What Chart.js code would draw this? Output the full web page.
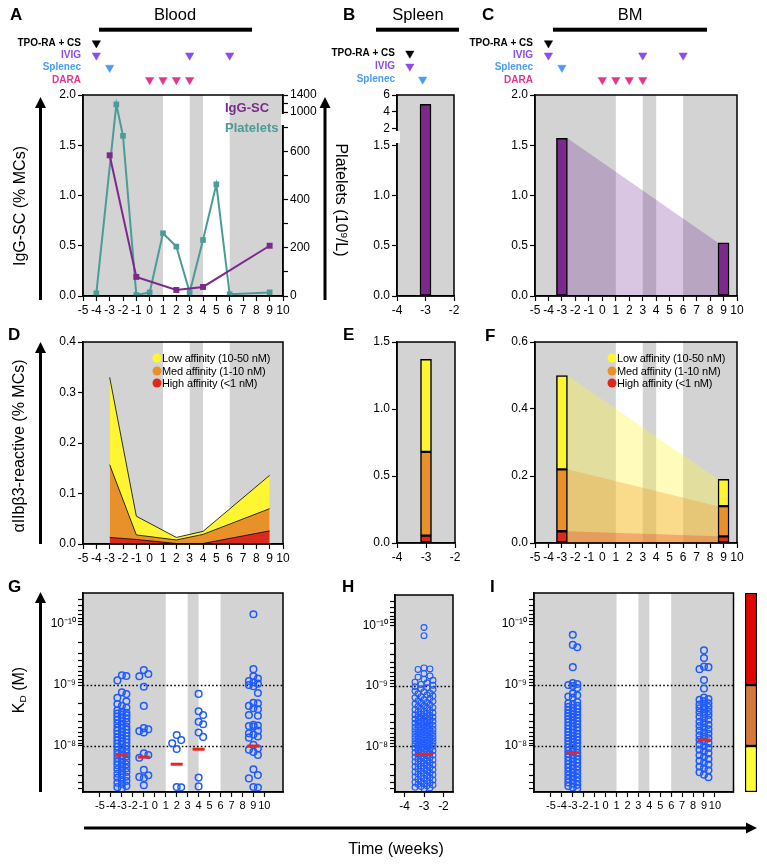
<!DOCTYPE html>
<html>
<head>
<meta charset="utf-8">
<script src="https://cdn.jsdelivr.net/npm/chart.js@4.4.1/dist/chart.umd.min.js"></script>
<style>
  html, body { margin: 0; background: #fff; }
  #fig { position: relative; width: 767px; height: 867px; overflow: hidden; font-family: Arial, "Liberation Sans", sans-serif; }
  #fig canvas { position: absolute; }
  #fig svg { position: absolute; left: 0; top: 0; z-index: 2; }
  .t { position: absolute; white-space: nowrap; line-height: 1; z-index: 3; color: #000; }
  .t sup { font-size: 0.62em; vertical-align: 0.55em; line-height: 0; }
  .t sub { font-size: 0.62em; vertical-align: -0.25em; line-height: 0; }
  .dot { position: absolute; width: 9px; height: 9px; border-radius: 50%; z-index: 3; transform: translate(-50%, -50%); }
</style>
</head>
<body>
<div id="fig"></div>
<script>
// ---------- data ----------
const weekTicks = [-5, -4, -3, -2, -1, 0, 1, 2, 3, 4, 5, 6, 7, 8, 9, 10];
const spleenTicks = [-4, -3, -2];
const whiteWindows = [[1, 3], [4, 6]];

const tpoWeeks = [-4];
const ivigWeeks = [-4, 3, 6];
const splenecWeeks = [-3];
const daraWeeks = [0, 1, 2, 3];
const tpoSpleen = [-3.55];
const ivigSpleen = [-3.55];
const splenecSpleen = [-3.1];

const sampleWeeks = [-3, -1, 2, 4, 9];
const iggBlood = [1.40, 0.19, 0.06, 0.09, 0.50];
const plateletWeeks = [-4, -2.5, -2, -1, 0, 1, 2, 3, 4, 5, 6, 9];
const platelets = [11, 1180, 664, 4, 15, 260, 205, 15, 232, 463, 7, 15];
const spleenWeeks = [-3];
const iggSpleen = [4.9];
const bmWeeks = [-3, 9];
const iggBM = [1.57, 0.53];

const highBlood = [0.013, 0.009, 0.001, 0.001, 0.026];
const medBlood = [0.144, 0.009, 0.007, 0.018, 0.044];
const lowBlood = [0.173, 0.037, 0.005, 0.006, 0.066];
const highSpleen = [0.055];
const medSpleen = [0.625];
const lowSpleen = [0.69];
const highBM = [0.035, 0.020];
const medBM = [0.185, 0.090];
const lowBM = [0.280, 0.080];

// KD values in nM
const kdBloodM3 = [0.69, 0.71, 0.84, 1.32, 1.41, 1.62, 1.85, 2.05, 2.2, 2.35, 2.6, 2.75, 2.85, 2.95, 3.05, 3.15, 3.3, 3.4, 3.5, 3.7,
  3.9, 4.05, 4.3, 4.5, 4.8, 5.0, 5.15, 5.4, 5.6, 5.9, 6.1, 6.3, 6.6, 6.9, 7.2, 7.4, 7.8, 8.1, 8.3, 8.8, 9.1, 9.4, 9.9, 10.2,
  10.8, 11.4, 11.7, 12.5, 13.1, 13.5, 14.3, 14.8, 15.7, 16.2, 17.3, 18.1, 18.8, 19.9, 20.6, 21.9, 23.1, 24.0, 25.6, 26.7,
  28.5, 29.8, 31.9, 33.2, 35.7, 37.4, 39.9, 42.0, 45.1, 47.3, 49.6];
const kdBloodM1 = [0.57, 0.66, 0.72, 1.07, 2.2, 5.1, 5.3, 5.7, 6.0, 13.2, 14.1, 15.6, 24.5, 30.2, 32.1, 33.4, 44.0];
const kdBlood2 = [6.6, 8.0, 9.0, 11.2, 47, 47.5];
const kdBlood4 = [1.4, 2.7, 3.1, 4.0, 4.4, 6.0, 7.1, 33, 46];
const kdBlood9 = [0.069, 0.55, 0.72, 0.78, 0.86, 0.9, 0.95, 1.0, 1.05, 1.35, 1.95, 2.0, 2.2, 2.4, 2.5, 3.1, 3.2, 4.5, 4.6, 4.7,
  4.8, 5.6, 6.2, 6.5, 7.0, 7.3, 9.6, 11.0, 11.5, 12.5, 14.0, 24, 30, 34, 47, 48];
const kdBloodMean = [14.0, 15.2, 19.9, 11.3, 10.0];

const kdSpleen = [0.107, 0.146, 0.50, 0.52, 0.53, 0.62, 0.68, 0.71, 0.77, 0.8, 0.86, 0.88, 0.94, 0.97, 1.02, 1.06, 1.1, 1.14,
  1.21, 1.24, 1.31, 1.34, 1.4, 1.46, 1.5, 1.56, 1.61, 1.67, 1.74, 1.79, 1.86, 1.9, 1.98, 2.04, 2.12, 2.18, 2.27, 2.31, 2.4,
  2.46, 2.52, 2.61, 2.68, 2.77, 2.82, 2.9, 2.98, 3.04, 3.12, 3.2, 3.28, 3.33, 3.42, 3.51, 3.6, 3.68, 3.77, 3.83, 3.92, 4.01,
  4.12, 4.2, 4.31, 4.4, 4.47, 4.58, 4.7, 4.79, 4.88, 4.97, 5.06, 5.18, 5.27, 5.35, 5.46, 5.58, 5.66, 5.79, 5.9, 6.02, 6.11,
  6.24, 6.33, 6.47, 6.6, 6.71, 6.85, 6.96, 7.1, 7.22, 7.37, 7.5, 7.63, 7.8, 7.92, 8.07, 8.24, 8.38, 8.55, 8.7, 8.86, 9.04,
  9.2, 9.38, 9.55, 9.76, 9.93, 10.1, 10.4, 10.6, 10.9, 11.1, 11.4, 11.7, 11.9, 12.3, 12.6, 12.9, 13.2, 13.6, 13.9, 14.3,
  14.6, 15.0, 15.4, 15.8, 16.2, 16.7, 17.1, 17.6, 18.0, 18.5, 19.0, 19.5, 20.1, 20.6, 21.2, 21.7, 22.4, 23.0, 23.6, 24.3,
  25.0, 25.6, 26.4, 27.1, 27.9, 28.6, 29.5, 30.3, 31.1, 32.0, 33.0, 33.9, 34.8, 35.9, 36.9, 37.9, 39.0, 40.1, 41.3, 42.4,
  43.6, 44.9, 46.1, 47.5, 48.8, 50.2];
const kdSpleenMean = [13.5];

const kdBmM3 = [0.15, 0.22, 0.24, 0.51, 0.93, 0.96, 1.0, 1.04, 1.12, 1.38, 1.47, 1.55, 1.62, 1.9, 2.0, 2.08, 2.2, 2.27, 2.38,
  2.45, 2.6, 2.66, 2.8, 2.9, 3.0, 3.1, 3.22, 3.35, 3.46, 3.6, 3.78, 3.9, 4.1, 4.2, 4.4, 4.6, 4.78, 5.0, 5.2, 5.4, 5.55, 5.9,
  6.1, 6.3, 6.6, 6.85, 7.1, 7.4, 7.7, 8.0, 8.3, 8.6, 9.0, 9.3, 9.7, 10.1, 10.5, 10.9, 11.4, 11.9, 12.4, 12.9, 13.4, 14.0,
  14.6, 15.2, 15.9, 16.6, 17.3, 18.1, 18.9, 19.8, 20.7, 21.6, 22.6, 23.7, 24.8, 26.0, 27.2, 28.5, 29.9, 31.3, 32.8, 34.4,
  36.0, 37.7, 39.5, 41.4, 43.4, 45.5, 47.7, 49.8];
const kdBm9 = [0.27, 0.36, 0.50, 0.51, 0.55, 0.83, 1.14, 1.6, 1.7, 1.75, 1.85, 2.0, 2.1, 2.2, 2.3, 2.4, 2.5, 2.7, 2.8, 3.0,
  3.1, 3.3, 3.5, 3.7, 4.0, 4.2, 4.5, 4.7, 5.0, 5.3, 5.6, 6.0, 6.3, 6.7, 7.1, 7.5, 7.9, 8.4, 8.9, 9.5, 10.1, 10.8, 11.5,
  12.3, 13.2, 14.2, 15.2, 16.3, 17.5, 18.8, 20.2, 21.7, 23.3, 25.0, 27.0, 29.5, 32.5];
const kdBmMean = [12.9, 8.0];

const kdAxisNM = [0.031, 56.8];
const affinityCutsNM = [1, 10];

// ---------- styles ----------
const PURPLE = '#7b2a8c', TEAL = '#4b9b96', GRAY = '#d3d3d3', BLUE = '#1f5cff', MEAN = '#e8261c';
const YEL = '#fff533', ORA = '#e8912a', RED = '#d92a1c';
const C_TPO = '#000000', C_IVIG = '#8a4cf0', C_SPL = '#4a9bf5', C_DARA = '#e0378c';

Chart.defaults.font.family = 'Arial, "Liberation Sans", sans-serif';
Chart.defaults.font.size = 12;
Chart.defaults.color = '#000';
Chart.defaults.animation = false;
Chart.defaults.events = [];
Chart.defaults.plugins.legend.display = false;
Chart.defaults.plugins.tooltip.enabled = false;

const fig = document.getElementById('fig');

// linear scale with an axis break
class BrokenScale extends Chart.LinearScale {
  brk() {
    const b = this.options.brk;
    return { lo: b.lo, loF: b.loF, hi: b.hi, hiF: b.hiF };
  }
  getPixelForValue(v) {
    const k = this.brk();
    let f;
    if (v <= k.lo) f = (v - this.min) / (k.lo - this.min) * k.loF;
    else if (v >= k.hi) f = k.hiF + (v - k.hi) / (this.max - k.hi) * (1 - k.hiF);
    else f = k.loF + (v - k.lo) / (k.hi - k.lo) * (k.hiF - k.loF);
    return this.bottom - f * (this.bottom - this.top);
  }
  getValueForPixel(p) {
    const k = this.brk();
    const f = (this.bottom - p) / (this.bottom - this.top);
    if (f <= k.loF) return this.min + f / k.loF * (k.lo - this.min);
    if (f >= k.hiF) return k.hi + (f - k.hiF) / (1 - k.hiF) * (this.max - k.hi);
    return k.lo + (f - k.loF) / (k.hiF - k.loF) * (k.hi - k.lo);
  }
}
BrokenScale.id = 'broken';
BrokenScale.defaults = Chart.LinearScale.defaults;
Chart.register(BrokenScale);

// background bands, frame, dotted reference lines, axis gaps
const decoMap = new WeakMap();
Chart.register({
  id: 'deco',
  beforeDraw(chart) {
    const o = decoMap.get(chart.canvas);
    if (!o) return;
    const { ctx, chartArea: a } = chart;
    ctx.save();
    ctx.fillStyle = GRAY;
    ctx.fillRect(a.left, a.top, a.width, a.height);
    if (o.bands) {
      ctx.fillStyle = '#fff';
      whiteWindows.forEach(([s, e]) => {
        const x0 = chart.scales.x.getPixelForValue(s), x1 = chart.scales.x.getPixelForValue(e);
        ctx.fillRect(x0, a.top, x1 - x0, a.height);
      });
    }
    ctx.restore();
  },
  beforeDatasetsDraw(chart) {
    const o = decoMap.get(chart.canvas);
    if (!o || !o.dotted) return;
    const { ctx, chartArea: a } = chart;
    ctx.save();
    ctx.strokeStyle = '#000';
    ctx.lineWidth = 1.3;
    ctx.setLineDash([1.6, 2.2]);
    o.dotted.forEach(v => {
      const py = Math.round(chart.scales.y.getPixelForValue(v)) + 0.5;
      ctx.beginPath(); ctx.moveTo(a.left, py); ctx.lineTo(a.right, py); ctx.stroke();
    });
    ctx.restore();
  },
  afterDraw(chart) {
    const o = decoMap.get(chart.canvas);
    if (!o) return;
    const { ctx, chartArea: a } = chart;
    ctx.save();
    ctx.strokeStyle = '#000';
    ctx.lineWidth = 1.5;
    ctx.strokeRect(a.left, a.top, a.width, a.height);
    if (o.gap) {
      const s = chart.scales[o.gap.axis];
      const y0 = s.getPixelForValue(o.gap.hi) + 2, y1 = s.getPixelForValue(o.gap.lo) - 2;
      const x = o.gap.side === 'left' ? a.left : a.right;
      ctx.clearRect(x - 2.5, y0, 5, y1 - y0);
    }
    ctx.restore();
  }
});

// ---------- helpers ----------
function canvasAt(x, y, w, h) {
  const c = document.createElement('canvas');
  c.width = w; c.height = h;
  c.style.left = x + 'px'; c.style.top = y + 'px';
  c.style.width = w + 'px'; c.style.height = h + 'px';
  fig.appendChild(c);
  return c;
}

function axis(o) {
  const a = {
    type: o.type || 'linear',
    offset: false,
    grid: { display: true, drawOnChartArea: false, drawTicks: true, tickLength: 5, tickWidth: 1.2, tickColor: '#000', offset: false },
    border: { display: true, color: '#000', width: 1.5 },
    ticks: { autoSkip: false, maxRotation: 0, minRotation: 0, padding: 2, color: '#000', font: { size: o.fs || 12 }, callback: o.fmt || (v => String(v)) },
    afterBuildTicks: s => { s.ticks = o.ticks.map(v => ({ value: v })); }
  };
  ['min', 'max', 'reverse', 'position', 'brk'].forEach(k => { if (o[k] !== undefined) a[k] = o[k]; });
  return a;
}

function panel(box, type, datasets, scales, deco) {
  const lw = box.l - box.x, rw = box.rw || 14, tp = 10, bh = 30;
  const c = canvasAt(box.x, box.t - tp, lw + box.r - box.l + rw, tp + box.b - box.t + bh);
  scales.x.afterFit = s => { s.height = bh; };
  scales.y.afterFit = s => { s.width = lw; };
  if (scales.y1) scales.y1.afterFit = s => { s.width = rw; };
  decoMap.set(c, deco);
  return new Chart(c, {
    type,
    data: { datasets },
    options: {
      responsive: false, devicePixelRatio: 1, animation: false,
      layout: { padding: { top: tp, right: scales.y1 ? 0 : rw, left: 0, bottom: 0 } },
      scales
    }
  });
}

function timeline(x0, plotL, plotR, top, rowH, xmin, xmax, rows) {
  const pad = 10, lw = plotL - x0;
  const c = canvasAt(x0, top - pad, lw + plotR - plotL + 10, pad * 2 + rowH * rows.length);
  new Chart(c, {
    type: 'scatter',
    data: {
      datasets: rows.map(r => ({
        data: r.weeks.map(w => ({ x: w, y: r.label })),
        pointStyle: 'triangle', pointRotation: 180, pointRadius: 4.8,
        pointBackgroundColor: r.color, pointBorderColor: r.color, pointBorderWidth: 0.5
      }))
    },
    options: {
      responsive: false, devicePixelRatio: 1, animation: false,
      layout: { padding: { top: pad, bottom: pad, left: 0, right: 10 } },
      scales: {
        x: { type: 'linear', min: xmin, max: xmax, display: false },
        y: {
          type: 'category', labels: rows.map(r => r.label), offset: true,
          grid: { display: false, drawTicks: false }, border: { display: false },
          ticks: { autoSkip: false, padding: 2, color: ctx => rows[ctx.index].color, font: { size: 10, weight: 'bold' } },
          afterFit: s => { s.width = lw; }
        }
      }
    }
  });
}

const pts = (xs, ys) => xs.map((x, i) => ({ x, y: ys[i] }));
const cum = (a, b) => a.map((v, i) => v + b[i]);
const fixed1 = v => v.toFixed(1);

const SUP = { '-': '\u207B', '0': '\u2070', '1': '\u00B9', '2': '\u00B2', '3': '\u00B3', '4': '\u2074', '5': '\u2075', '6': '\u2076', '7': '\u2077', '8': '\u2078', '9': '\u2079' };
function decade(v) {
  const l = Math.log10(v), e = Math.round(l);
  return Math.abs(l - e) < 1e-6 ? '10' + String(e).split('').map(ch => SUP[ch]).join('') : '';
}
const KMIN = kdAxisNM[0] * 1e-9, KMAX = kdAxisNM[1] * 1e-9;
const logTicks = [];
for (let e = -11; e <= -8; e++) for (let m = 1; m <= 9; m++) {
  const v = m * Math.pow(10, e);
  if (v >= KMIN && v <= KMAX) logTicks.push(v);
}

// deterministic swarm layout of points around a week
function swarm(week, valsNM, pxX, diam, step, maxPx) {
  const pxDec = 61, placed = [], offs = [0];
  for (let k = 1; k * step <= maxPx + 0.01; k++) offs.push(k * step, -k * step);
  return valsNM.slice().sort((a, b) => a - b).map(v => {
    const py = Math.log10(v) * pxDec;
    let best = 0, bestD = -1;
    for (const dx of offs) {
      let md = Infinity;
      for (const q of placed) {
        const dy = q.py - py;
        if (Math.abs(dy) < diam) md = Math.min(md, Math.hypot(q.dx - dx, dy));
      }
      if (md >= diam) { best = dx; break; }
      if (md > bestD) { bestD = md; best = dx; }
    }
    placed.push({ dx: best, py });
    return { x: week + best / pxX, y: v * 1e-9 };
  });
}

function kdSets(groups, meanWeeks, means, pxX, diam, step, maxPx, r, lineR) {
  let all = [];
  groups.forEach(([w, vals]) => { all = all.concat(swarm(w, vals, pxX, diam, step, maxPx)); });
  return [
    { data: meanWeeks.map((w, i) => ({ x: w, y: means[i] * 1e-9 })), pointStyle: 'line', pointRadius: lineR,
      pointBorderColor: MEAN, pointBorderWidth: 3, borderColor: MEAN, order: 0 },
    { data: all, pointStyle: 'circle', pointRadius: r, pointBackgroundColor: 'rgba(0,0,0,0)',
      pointBorderColor: BLUE, pointBorderWidth: r > 3 ? 1.5 : 1.1, order: 1 }
  ];
}

function logAxis() {
  return axis({ type: 'logarithmic', min: KMIN, max: KMAX, reverse: true, ticks: logTicks, fmt: decade, fs: 12 });
}

// ---------- timelines ----------
const bigRows = [
  { label: 'TPO-RA + CS', color: C_TPO, weeks: tpoWeeks },
  { label: 'IVIG', color: C_IVIG, weeks: ivigWeeks },
  { label: 'Splenec', color: C_SPL, weeks: splenecWeeks },
  { label: 'DARA', color: C_DARA, weeks: daraWeeks }
];
timeline(0, 83, 283, 37, 12.3, -5, 10, bigRows);
timeline(440, 535, 737, 37, 12.3, -5, 10, bigRows);
timeline(300, 397, 454, 46.5, 13.3, -4, -2, [
  { label: 'TPO-RA + CS', color: C_TPO, weeks: tpoSpleen },
  { label: 'IVIG', color: C_IVIG, weeks: ivigSpleen },
  { label: 'Splenec', color: C_SPL, weeks: splenecSpleen }
]);

// ---------- A ----------
panel({ x: 0, l: 83, r: 283, t: 95, b: 296, rw: 40 }, 'scatter', [
  { data: pts(sampleWeeks, iggBlood), yAxisID: 'y', showLine: true, borderColor: PURPLE, backgroundColor: PURPLE,
    borderWidth: 2, pointStyle: 'rect', pointRadius: 4.2, pointBorderWidth: 0 },
  { data: pts(plateletWeeks, platelets), yAxisID: 'y1', showLine: true, borderColor: TEAL, backgroundColor: TEAL,
    borderWidth: 2, pointStyle: 'rect', pointRadius: 4, pointBorderWidth: 0 }
], {
  x: axis({ min: -5, max: 10, ticks: weekTicks }),
  y: axis({ min: 0, max: 2, ticks: [0, 0.5, 1, 1.5, 2], fmt: fixed1 }),
  y1: axis({ type: 'broken', position: 'right', min: 0, max: 1400, brk: { lo: 700, loF: 0.84, hi: 1000, hiF: 0.915 },
    ticks: [0, 100, 200, 300, 400, 500, 600, 700, 1000, 1200, 1400],
    fmt: v => [0, 200, 400, 600, 1000, 1400].includes(v) ? String(v) : '' })
}, { bands: true, gap: { axis: 'y1', lo: 700, hi: 1000, side: 'right' } });

// ---------- B ----------
panel({ x: 347, l: 397, r: 454, t: 95, b: 296 }, 'bar', [
  { data: pts(spleenWeeks, iggSpleen), backgroundColor: PURPLE, borderColor: '#000', borderWidth: 1.5,
    borderSkipped: false, barThickness: 11 }
], {
  x: axis({ min: -4, max: -2, ticks: spleenTicks }),
  y: axis({ type: 'broken', min: 0, max: 6, brk: { lo: 1.5, loF: 0.75, hi: 2, hiF: 0.832 },
    ticks: [0, 0.5, 1, 1.5, 2, 4, 6], fmt: v => v < 2 ? v.toFixed(1) : String(v) })
}, { bands: false, gap: { axis: 'y', lo: 1.5, hi: 2, side: 'left' } });

// ---------- C ----------
const hwBM = 5.5 / ((737 - 535) / 15);
panel({ x: 485, l: 535, r: 737, t: 95, b: 296 }, 'bar', [
  { data: pts(bmWeeks, iggBM), backgroundColor: PURPLE, borderColor: '#000', borderWidth: 1.5,
    borderSkipped: false, barThickness: 11, order: 0 },
  { type: 'line', data: [{ x: bmWeeks[0] + hwBM, y: iggBM[0] }, { x: bmWeeks[1] - hwBM, y: iggBM[1] }],
    fill: 'origin', backgroundColor: 'rgba(103,27,143,0.25)', borderWidth: 0, pointRadius: 0, order: 1 }
], {
  x: axis({ min: -5, max: 10, ticks: weekTicks }),
  y: axis({ min: 0, max: 2, ticks: [0, 0.5, 1, 1.5, 2], fmt: fixed1 })
}, { bands: true });

// ---------- D ----------
const b1 = highBlood, b2 = cum(b1, medBlood), b3 = cum(b2, lowBlood);
const areaSet = (ys, color) => ({ data: pts(sampleWeeks, ys), showLine: true, fill: 'origin', backgroundColor: color,
  borderColor: '#000', borderWidth: 0.8, pointRadius: 0 });
panel({ x: 0, l: 83, r: 283, t: 342, b: 544 }, 'scatter', [
  areaSet(b1, RED), areaSet(b2, ORA), areaSet(b3, YEL)
], {
  x: axis({ min: -5, max: 10, ticks: weekTicks }),
  y: axis({ min: 0, max: 0.4, ticks: [0, 0.1, 0.2, 0.3, 0.4], fmt: fixed1 })
}, { bands: true });

// ---------- E ----------
const s1 = highSpleen, s2 = cum(s1, medSpleen), s3 = cum(s2, lowSpleen);
const floatSet = (xs, lo, hi, color) => ({ data: xs.map((x, i) => ({ x, y: [lo ? lo[i] : 0, hi[i]] })),
  backgroundColor: color, borderColor: '#000', borderWidth: 1.5, borderSkipped: false, barThickness: 11, grouped: false, order: 0 });
panel({ x: 347, l: 397, r: 455, t: 342, b: 543 }, 'bar', [
  floatSet(spleenWeeks, null, s1, RED), floatSet(spleenWeeks, s1, s2, ORA), floatSet(spleenWeeks, s2, s3, YEL)
], {
  x: axis({ min: -4, max: -2, ticks: spleenTicks }),
  y: axis({ min: 0, max: 1.5, ticks: [0, 0.5, 1, 1.5], fmt: fixed1 })
}, { bands: false });

// ---------- F ----------
const m1 = highBM, m2 = cum(m1, medBM), m3 = cum(m2, lowBM);
const linkSet = (ys, color, ord) => ({ type: 'line', data: [{ x: bmWeeks[0] + hwBM, y: ys[0] }, { x: bmWeeks[1] - hwBM, y: ys[1] }],
  fill: 'origin', backgroundColor: color, borderWidth: 0, pointRadius: 0, order: ord });
panel({ x: 485, l: 535, r: 737, t: 342, b: 543 }, 'bar', [
  floatSet(bmWeeks, null, m1, RED), floatSet(bmWeeks, m1, m2, ORA), floatSet(bmWeeks, m2, m3, YEL),
  linkSet(m3, 'rgba(255,245,60,0.35)', 3), linkSet(m2, 'rgba(240,150,40,0.32)', 2), linkSet(m1, 'rgba(225,60,30,0.3)', 1)
], {
  x: axis({ min: -5, max: 10, ticks: weekTicks }),
  y: axis({ min: 0, max: 0.6, ticks: [0, 0.2, 0.4, 0.6], fmt: fixed1 })
}, { bands: true });

// ---------- G ----------
const gxMin = -6.55, gxMax = 11.7;
panel({ x: 0, l: 83, r: 283, t: 593, b: 792 }, 'scatter',
  kdSets([[-3, kdBloodM3], [-1, kdBloodM1], [2, kdBlood2], [4, kdBlood4], [9, kdBlood9]],
    sampleWeeks, kdBloodMean, 200 / (gxMax - gxMin), 7, 4.5, 5, 3.3, 6), {
  x: axis({ min: gxMin, max: gxMax, ticks: weekTicks, fs: 11 }),
  y: logAxis()
}, { bands: true, dotted: [1e-9, 1e-8] });

// ---------- H ----------
panel({ x: 346, l: 395, r: 453, t: 593, b: 792 }, 'scatter',
  kdSets([[-3, kdSpleen]], spleenWeeks, kdSpleenMean, 58 / 2.98, 6, 3, 9, 2.9, 9), {
  x: axis({ min: -4.49, max: -1.51, ticks: spleenTicks }),
  y: logAxis()
}, { bands: false, dotted: [1e-9, 1e-8] });

// ---------- I ----------
panel({ x: 484, l: 534, r: 735, t: 593, b: 792, rw: 8 }, 'scatter',
  kdSets([[-3, kdBmM3], [9, kdBm9]], bmWeeks, kdBmMean, 201 / (gxMax - gxMin), 7, 4.5, 6, 3.3, 6.5), {
  x: axis({ min: gxMin, max: gxMax, ticks: weekTicks, fs: 11 }),
  y: logAxis()
}, { bands: true, dotted: [1e-9, 1e-8] });

// affinity colour key on the KD scale
{
  const c = canvasAt(743, 591, 16, 203);
  const lims = [kdAxisNM[0], affinityCutsNM[0], affinityCutsNM[1], kdAxisNM[1]].map(v => v * 1e-9);
  const cols = ['#e10600', '#d4793a', '#ffff33'];
  new Chart(c, {
    type: 'bar',
    data: { labels: ['k'], datasets: cols.map((col, i) => ({ data: [[lims[i], lims[i + 1]]], backgroundColor: col,
      borderColor: '#000', borderWidth: 1.5, borderSkipped: false, grouped: false, barPercentage: 1, categoryPercentage: 1 })) },
    options: {
      responsive: false, devicePixelRatio: 1, animation: false,
      layout: { padding: 2 },
      scales: {
        x: { type: 'category', display: false },
        y: { type: 'logarithmic', display: false, min: KMIN, max: KMAX, reverse: true }
      }
    }
  });
}

// ---------- text & decorations ----------
function txt(s, x, y, o = {}) {
  const d = document.createElement('div');
  d.className = 't';
  d.innerHTML = s;
  d.style.left = x + 'px'; d.style.top = y + 'px';
  d.style.fontSize = (o.size || 16) + 'px';
  if (o.bold) d.style.fontWeight = 'bold';
  if (o.color) d.style.color = o.color;
  if (o.ls) d.style.letterSpacing = o.ls + 'px';
  const ax = o.anchor === 'l' ? '0' : o.anchor === 'r' ? '-100%' : '-50%';
  d.style.transform = 'translate(' + ax + ',-50%)' + (o.rot ? ' rotate(' + o.rot + 'deg)' : '');
  fig.appendChild(d);
}
function dot(x, y, color) {
  const d = document.createElement('div');
  d.className = 'dot';
  d.style.left = x + 'px'; d.style.top = y + 'px'; d.style.background = color;
  fig.appendChild(d);
}

[['A', 10, 14], ['B', 343, 14], ['C', 482, 14], ['D', 8, 334], ['E', 343, 334], ['F', 485, 335],
 ['G', 8, 586], ['H', 342, 586], ['I', 490, 586]].forEach(([s, x, y]) => txt(s, x, y, { size: 17, bold: true, anchor: 'l' }));

txt('Blood', 175, 14, { size: 16.5 });
txt('Spleen', 418, 14, { size: 16.5 });
txt('BM', 630, 14, { size: 16.5 });

txt('IgG-SC (% MCs)', 20, 206, { rot: -90 });
txt('Platelets (10<sup>9</sup>/L)', 341, 200, { rot: 90 });
txt('\u03B1IIb\u03B23-reactive (% MCs)', 19, 446, { rot: -90 });
txt('K<sub>D</sub> (M)', 19, 690, { rot: -90 });
txt('Time (weeks)', 396, 849);

txt('IgG-SC', 225, 107, { size: 13, bold: true, color: PURPLE, anchor: 'l' });
txt('Platelets', 225, 127, { size: 13, bold: true, color: TEAL, anchor: 'l' });

const legendRows = [['Low affinity (10-50 nM)', YEL, 358], ['Med affinity (1-10 nM)', ORA, 371], ['High affinity (&lt;1 nM)', RED, 383]];
[157, 612].forEach(cx => legendRows.forEach(([s, col, y]) => {
  dot(cx, y, col);
  txt(s, cx + 5, y, { size: 11, anchor: 'l', ls: -0.15 });
}));

const NS = 'http://www.w3.org/2000/svg';
const svg = document.createElementNS(NS, 'svg');
svg.setAttribute('width', 767); svg.setAttribute('height', 867);
fig.appendChild(svg);
function el(name, attrs) {
  const e = document.createElementNS(NS, name);
  Object.entries(attrs).forEach(([k, v]) => e.setAttribute(k, v));
  svg.appendChild(e);
}
function arrowUp(x, yb, yt) {
  el('line', { x1: x, y1: yb, x2: x, y2: yt + 9, stroke: '#000', 'stroke-width': 3 });
  el('polygon', { points: `${x - 5.5},${yt + 11} ${x + 5.5},${yt + 11} ${x},${yt}`, fill: '#000' });
}
arrowUp(40.5, 300, 97);
arrowUp(325, 300, 97);
arrowUp(40.5, 544, 342);
arrowUp(40.5, 792, 592);
el('line', { x1: 84, y1: 828, x2: 748, y2: 828, stroke: '#000', 'stroke-width': 3 });
el('polygon', { points: '746,822.5 746,833.5 757,828', fill: '#000' });
el('rect', { x: 99, y: 27.7, width: 153, height: 4, fill: '#000' });
el('rect', { x: 376, y: 27.7, width: 83, height: 4, fill: '#000' });
el('rect', { x: 553, y: 27.7, width: 154, height: 4, fill: '#000' });
</script>
</body>
</html>
